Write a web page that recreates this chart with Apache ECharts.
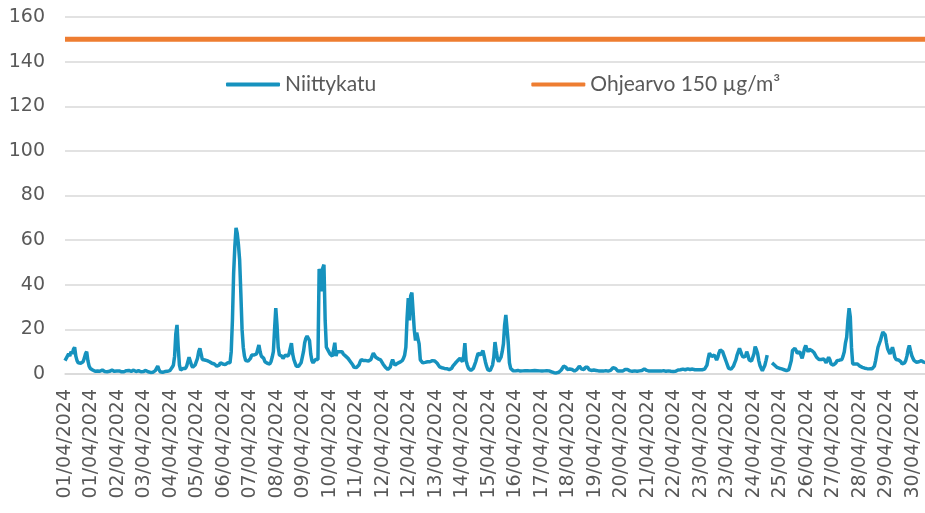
<!DOCTYPE html>
<html>
<head>
<meta charset="utf-8">
<title>Niittykatu</title>
<script src="https://cdn.jsdelivr.net/npm/echarts@6/dist/echarts.min.js"></script>
<style>
	html, body { margin: 0; padding: 0; background: #fff; }
	#chart { width: 925px; height: 513px; }
</style>
</head>
<body>
<div id="chart"></div>
<script>
'use strict';

// tuntiarvot huhtikuu 2024, yksi rivi per päivä
var niittykatu = [
	6, 7, 8, 9, 8, 10, 9, 11, 12, 8, 6, 5, 4.5, 4.8, 5, 5.5, 7, 9, 10, 6, 3.5, 2.5, 2, 1.8,
	1.5, 1.2, 1.6, 1.3, 1.0, 1.2, 1.5, 1.8, 1.4, 1.1, 1.3, 1.0, 0.9, 1.2, 1.4, 1.7, 1.5, 1.2, 1.0, 1.3, 1.6, 1.4, 1.2, 1.0,
	0.8, 1.0, 1.3, 1.5, 1.8, 1.6, 1.3, 1.2, 1.5, 1.7, 1.4, 1.1, 1.3, 1.5, 1.2, 1.0, 0.9, 1.1, 1.4, 1.6, 1.3, 1.0, 0.8, 0.7,
	0.6, 0.8, 1.0, 1.5, 2.5, 3.5, 2.0, 1.0, 0.8, 0.7, 0.9, 1.1, 1.0, 1.2, 1.3, 1.5, 2.0, 3.0, 4.0, 8.0, 18, 22, 12, 4.0,
	1.8, 2.0, 2.5, 2.8, 2.5, 3.5, 5.5, 7.5, 7.0, 4.0, 3.0, 3.5, 4.0, 4.5, 7.0, 10, 11.5, 9.0, 6.5, 6.0, 6.3, 6.5, 6.0, 6.3,
	5.5, 5.0, 4.8, 4.5, 4.5, 4.0, 3.5, 3.3, 4.0, 5.0, 5.3, 4.5, 4.0, 4.2, 4.8, 5.0, 5.2, 5.0, 10, 24, 45, 57, 65.5, 63,
	58, 51, 36, 20, 12, 8.0, 6.0, 5.5, 5.8, 6.0, 7.0, 8.5, 9.3, 8.5, 8.0, 9.0, 11, 13, 10, 8.0, 8.5, 7.0, 5.5, 5.0,
	4.8, 4.5, 4.5, 5.5, 7.5, 10, 20, 29.5, 22, 12, 8.5, 8.3, 8.0, 7.0, 6.5, 8.5, 9.3, 8.0, 9.0, 11.5, 13.8, 9.0, 6.5, 5.0,
	3.5, 3.3, 3.5, 3.5, 5.0, 7.5, 10, 14, 16, 17, 17.5, 15, 9.0, 6.0, 5.0, 5.5, 6.5, 6.8, 6.5, 47, 45.5, 37, 47.5, 49,
	24, 12, 11, 10.5, 9.0, 8.5, 8.0, 11, 14, 8.0, 10, 10.5, 10, 9.5, 10, 9.0, 8.5, 8.0, 7.5, 7.0, 6.5, 5.5, 5.0, 4.0,
	3.0, 2.8, 2.9, 3.0, 4.0, 5.5, 6.5, 6.2, 6.0, 6.3, 6.0, 5.8, 5.8, 5.8, 6.5, 8.0, 9.3, 8.5, 7.5, 7.0, 6.8, 6.5, 6.3, 5.5,
	4.5, 4.0, 3.0, 2.2, 2.0, 2.3, 3.0, 5.0, 6.5, 5.0, 4.0, 4.5, 4.8, 5.0, 5.3, 5.5, 6.0, 7.0, 8.5, 12, 25, 34, 24, 35,
	36.5, 37, 19.7, 15, 18.5, 16, 13.5, 6.3, 5.5, 5.0, 5.0, 5.2, 5.5, 5.5, 5.3, 5.5, 5.8, 6.0, 6.3, 5.8, 5.2, 4.8, 4.0, 3.2,
	3.0, 2.8, 2.6, 2.5, 2.5, 2.4, 2.2, 2.0, 2.0, 2.5, 3.5, 4.0, 4.8, 5.5, 6.0, 6.5, 7.0, 6.5, 5.5, 8.0, 13.8, 6.0, 4.0, 2.5,
	2.0, 1.6, 1.5, 2.5, 4.0, 5.5, 7.5, 9.3, 8.8, 8.5, 9.5, 10.5, 8.0, 5.5, 3.5, 2.0, 1.6, 1.5, 1.5, 4.0, 7.5, 14.3, 10.5, 7.0,
	5.5, 6.0, 7.5, 10, 13.5, 22, 26.5, 26, 14, 5.0, 2.5, 2.0, 1.5, 1.5, 1.4, 1.5, 1.6, 1.5, 1.3, 1.5, 1.4, 1.5, 1.5, 1.4,
	1.5, 1.6, 1.4, 1.3, 1.5, 1.7, 1.6, 1.4, 1.5, 1.6, 1.4, 1.2, 1.3, 1.5, 1.4, 1.3, 1.5, 1.6, 1.4, 1.2, 1.0, 0.8, 0.6, 0.5,
	0.5, 0.6, 0.8, 1.2, 1.8, 2.5, 3.5, 4.0, 3.0, 2.0, 1.8, 2.2, 2.5, 2.0, 1.5, 1.3, 1.6, 2.0, 2.8, 3.5, 3.0, 2.2, 1.8, 2.0,
	3.0, 3.8, 3.0, 2.0, 1.8, 1.6, 1.7, 1.8, 1.8, 1.6, 1.5, 1.4, 1.5, 1.4, 1.3, 1.3, 1.4, 1.5, 1.4, 1.3, 1.4, 1.6, 2.0, 2.8,
	3.3, 2.5, 1.8, 1.3, 1.2, 1.3, 1.2, 1.3, 1.5, 2.0, 2.3, 2.0, 1.6, 1.4, 1.3, 1.2, 1.3, 1.4, 1.3, 1.2, 1.3, 1.4, 1.5, 1.6,
	2.0, 2.3, 2.0, 1.6, 1.4, 1.3, 1.2, 1.3, 1.4, 1.3, 1.2, 1.3, 1.4, 1.3, 1.2, 1.3, 1.4, 1.5, 1.3, 1.2, 1.3, 1.4, 1.3, 1.2,
	1.2, 1.1, 1.0, 1.2, 1.5, 1.8, 2.0, 1.9, 2.0, 2.2, 2.0, 1.9, 2.1, 2.3, 2.2, 2.0, 2.1, 2.2, 2.0, 1.9, 1.8, 1.9, 2.0, 1.9,
	1.8, 1.9, 2.0, 2.2, 2.3, 4.0, 7.0, 9.3, 8.5, 7.8, 8.0, 8.5, 7.5, 6.3, 7.5, 9.5, 10.8, 10.5, 10, 8.5, 7.0, 5.5, 4.0, 2.5,
	2.0, 2.2, 2.5, 3.5, 5.0, 6.3, 8.5, 10, 11.5, 10, 8.5, 7.5, 6.8, 8.0, 10, 8.5, 6.3, 6.0, 5.8, 5.5, 9.0, 12.3, 11, 9.3,
	6.0, 3.8, 2.5, 1.5, 2.2, 3.8, 6.0, 8.5, null, null, null, 5.0, 4.5, 4.0, 3.5, 3.0, 2.8, 2.6, 2.4, 2.3, 2.1, 1.9, 1.7, 1.5,
	1.8, 2.0, 2.3, 6.0, 10.5, 11, 11.5, 10.5, 9.3, 9.5, 10, 8.5, 7.0, 9.0, 11.5, 12.8, 11, 10, 11, 11.5, 10.5, 10, 9.5, 9.3,
	7.5, 7.0, 6.5, 6.0, 6.5, 7.0, 6.8, 6.0, 5.0, 4.5, 7.5, 6.5, 4.5, 4.2, 4.0, 4.0, 5.0, 6.0, 6.0, 6.2, 6.0, 6.5, 8.0, 10,
	14, 16.5, 24, 29.5, 25.5, 11.8, 4.5, 4.3, 4.5, 4.4, 4.5, 4.0, 3.5, 3.3, 3.0, 2.8, 2.6, 2.5, 2.4, 2.3, 2.3, 2.4, 2.3, 2.3,
	3.5, 6.0, 9.0, 12, 13.5, 15, 17, 18.8, 18.5, 17.5, 14, 11.3, 10, 9.0, 10.5, 12, 10, 7.5, 6.5, 6.0, 6.3, 6.5, 5.5, 4.5,
	4.5, 5.0, 6.0, 8.0, 11, 12.8, 10.5, 8.3, 7.0, 6.0, 5.5, 5.3, 5.3, 5.5, 5.8, 6.0, 5.8, 5.3, 5.2, 5.0, 5.0, 5.1, 5.0, 5.0
];

var ohjearvo = 150;
var yTicks = { min: 0, max: 160, interval: 20 };

// kategoriat: päivämäärä jokaiselle tunnille
var aika = [];
for (var d = 1; d <= 30; d++) {
	for (var h = 0; h < 24; h++) {
		aika.push((d < 10 ? '0' + d : '' + d) + '/04/2024');
	}
}
var raja = aika.map(function () { return ohjearvo; });

var gray = '#595959';
var myChart = echarts.init(document.getElementById('chart'));
var option = {
	animation: false,
	grid: {
		left: 65,
		top: 17,
		width: 866,
		height: 357,
		outerBoundsMode: 'none'
	},
	legend: {
		left: 226,
		top: 74,
		padding: 0,
		itemWidth: 54,
		itemHeight: 4,
		itemGap: 155,
		icon: 'roundRect',
		textStyle: {
			fontFamily: 'Lato',
			fontSize: 21,
			color: gray
		},
		data: ['Niittykatu', 'Ohjearvo 150 µg/m³']
	},
	xAxis: {
		type: 'category',
		data: aika,
		boundaryGap: false,
		axisLine: { lineStyle: { color: '#d9d9d9', width: 1.5 } },
		axisTick: { show: false },
		axisLabel: {
			interval: 21,
			rotate: 90,
			margin: 15,
			color: gray,
			fontFamily: 'DejaVu Sans',
			fontSize: 19
		},
		splitLine: { show: false }
	},
	yAxis: {
		type: 'value',
		min: yTicks.min,
		max: yTicks.max,
		interval: yTicks.interval,
		axisLine: { show: false },
		axisTick: { show: false },
		axisLabel: {
			margin: 20,
			color: gray,
			fontFamily: 'DejaVu Sans',
			fontSize: 19
		},
		splitLine: { lineStyle: { color: '#d9d9d9', width: 1.5 } }
	},
	series: [{
		name: 'Niittykatu',
		type: 'line',
		data: niittykatu,
		showSymbol: false,
		connectNulls: false,
		itemStyle: { color: '#1692be' },
		lineStyle: { color: '#1692be', width: 3.5 }
	}, {
		name: 'Ohjearvo 150 µg/m³',
		type: 'line',
		data: raja,
		showSymbol: false,
		itemStyle: { color: '#ee7d31' },
		lineStyle: { color: '#ee7d31', width: 5 }
	}]
};
myChart.setOption(option);
</script>
</body>
</html>
